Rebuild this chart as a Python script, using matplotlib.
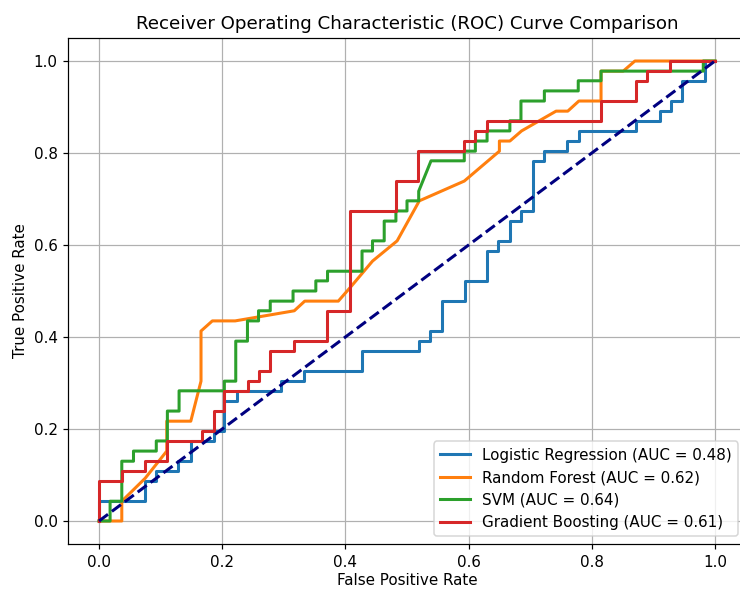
import matplotlib
matplotlib.use("Agg")
import matplotlib.pyplot as plt

# Logistic Regression ROC vertices
lr_fpr = [0, 0, 0.074, 0.074, 0.093, 0.093, 0.129, 0.129, 0.150, 0.150, 0.186, 0.186, 0.2035, 0.2035,
          0.2235, 0.2235, 0.295, 0.295, 0.333, 0.333, 0.427, 0.427, 0.519, 0.519, 0.538, 0.538,
          0.557, 0.557, 0.594, 0.594, 0.630, 0.630, 0.648, 0.648, 0.667, 0.667, 0.685, 0.685,
          0.705, 0.705, 0.723, 0.723, 0.760, 0.760, 0.780, 0.780, 0.872, 0.872, 0.910, 0.910,
          0.928, 0.928, 0.946, 0.946, 0.983, 0.983, 1.0]
lr_tpr = [0, 0.0435, 0.0435, 0.087, 0.087, 0.109, 0.109, 0.130, 0.130, 0.174, 0.174, 0.196, 0.196, 0.261,
          0.261, 0.283, 0.283, 0.304, 0.304, 0.326, 0.326, 0.370, 0.370, 0.391, 0.391, 0.413,
          0.413, 0.478, 0.478, 0.522, 0.522, 0.587, 0.587, 0.609, 0.609, 0.652, 0.652, 0.674,
          0.674, 0.783, 0.783, 0.804, 0.804, 0.826, 0.826, 0.848, 0.848, 0.870, 0.870, 0.891,
          0.891, 0.913, 0.913, 0.957, 0.957, 1.0, 1.0]

# Random Forest ROC vertices
rf_fpr = [0, 0.037, 0.037, 0.075, 0.110, 0.110, 0.149, 0.1656, 0.1656, 0.184, 0.221, 0.317, 0.334,
          0.3885, 0.41, 0.444, 0.484, 0.520, 0.593, 0.650, 0.650, 0.667, 0.686, 0.742, 0.761,
          0.779, 0.815, 0.815, 0.851, 0.870, 1.0]
rf_tpr = [0, 0, 0.043, 0.093, 0.152, 0.217, 0.217, 0.304, 0.413, 0.435, 0.435, 0.457, 0.478,
          0.478, 0.511, 0.565, 0.609, 0.696, 0.739, 0.804, 0.826, 0.826, 0.848, 0.891, 0.891,
          0.913, 0.913, 0.978, 0.978, 1.0, 1.0]

# SVM ROC vertices
svm_fpr = [0, 0.018, 0.018, 0.037, 0.037, 0.056, 0.056, 0.093, 0.093, 0.111, 0.111, 0.130, 0.130,
           0.2035, 0.2035, 0.222, 0.222, 0.241, 0.241, 0.259, 0.259, 0.278, 0.278, 0.315, 0.315,
           0.352, 0.352, 0.371, 0.371, 0.427, 0.427, 0.444, 0.444, 0.463, 0.463, 0.482, 0.482,
           0.500, 0.500, 0.519, 0.519, 0.539, 0.593, 0.593, 0.611, 0.611, 0.630, 0.630, 0.667,
           0.667, 0.685, 0.685, 0.723, 0.723, 0.778, 0.778, 0.815, 0.815, 0.981, 0.981, 1.0]
svm_tpr = [0, 0, 0.043, 0.043, 0.130, 0.130, 0.152, 0.152, 0.174, 0.174, 0.239, 0.239, 0.283,
           0.283, 0.304, 0.304, 0.391, 0.391, 0.435, 0.435, 0.457, 0.457, 0.478, 0.478, 0.500,
           0.500, 0.522, 0.522, 0.543, 0.543, 0.587, 0.587, 0.609, 0.609, 0.652, 0.652, 0.674,
           0.674, 0.696, 0.696, 0.717, 0.783, 0.783, 0.804, 0.804, 0.826, 0.826, 0.848, 0.848,
           0.870, 0.870, 0.913, 0.913, 0.935, 0.935, 0.957, 0.957, 0.978, 0.978, 1.0, 1.0]

# Gradient Boosting ROC vertices
gb_fpr = [0, 0, 0.037, 0.037, 0.075, 0.075, 0.111, 0.111, 0.167, 0.167, 0.187, 0.187, 0.2035, 0.2035,
          0.242, 0.242, 0.260, 0.260, 0.278, 0.278, 0.317, 0.317, 0.370, 0.370, 0.4075, 0.4075,
          0.482, 0.482, 0.518, 0.518, 0.593, 0.593, 0.611, 0.611, 0.630, 0.630, 0.815, 0.815,
          0.871, 0.871, 0.889, 0.889, 0.927, 0.927, 1.0]
gb_tpr = [0, 0.087, 0.087, 0.109, 0.109, 0.130, 0.130, 0.174, 0.174, 0.196, 0.196, 0.239, 0.239, 0.283,
          0.283, 0.304, 0.304, 0.326, 0.326, 0.370, 0.370, 0.391, 0.391, 0.457, 0.457, 0.674,
          0.674, 0.739, 0.739, 0.804, 0.804, 0.826, 0.826, 0.848, 0.848, 0.870, 0.870, 0.913,
          0.913, 0.957, 0.957, 0.978, 0.978, 1.0, 1.0]

model_names = ["Logistic Regression", "Random Forest", "SVM", "Gradient Boosting"]
auc_values = [0.48, 0.62, 0.64, 0.61]
curves = [(lr_fpr, lr_tpr), (rf_fpr, rf_tpr), (svm_fpr, svm_tpr), (gb_fpr, gb_tpr)]
colors = ["#1f77b4", "#ff7f0e", "#2ca02c", "#d62728"]

DPI = 109.3
fig = plt.figure(figsize=(740 / DPI, 589 / DPI), dpi=DPI)
ax = fig.add_axes([68.2 / 740, 1 - 544 / 589, (745.8 - 68.2) / 740, (544 - 38) / 589])

for (f, t), name, auc, c in zip(curves, model_names, auc_values, colors):
    ax.plot(f, t, color=c, lw=2, label=f"{name} (AUC = {auc:.2f})")
ax.plot([0, 1], [0, 1], color="navy", lw=2, linestyle="--")

ax.set_xlim(-0.05, 1.05)
ax.set_ylim(-0.05, 1.05)
ax.set_xlabel("False Positive Rate", labelpad=2)
ax.set_ylabel("True Positive Rate")
ax.set_title("Receiver Operating Characteristic (ROC) Curve Comparison")
ax.legend(loc="lower right")
ax.grid(True)

fig.savefig("out.png", dpi=DPI)
